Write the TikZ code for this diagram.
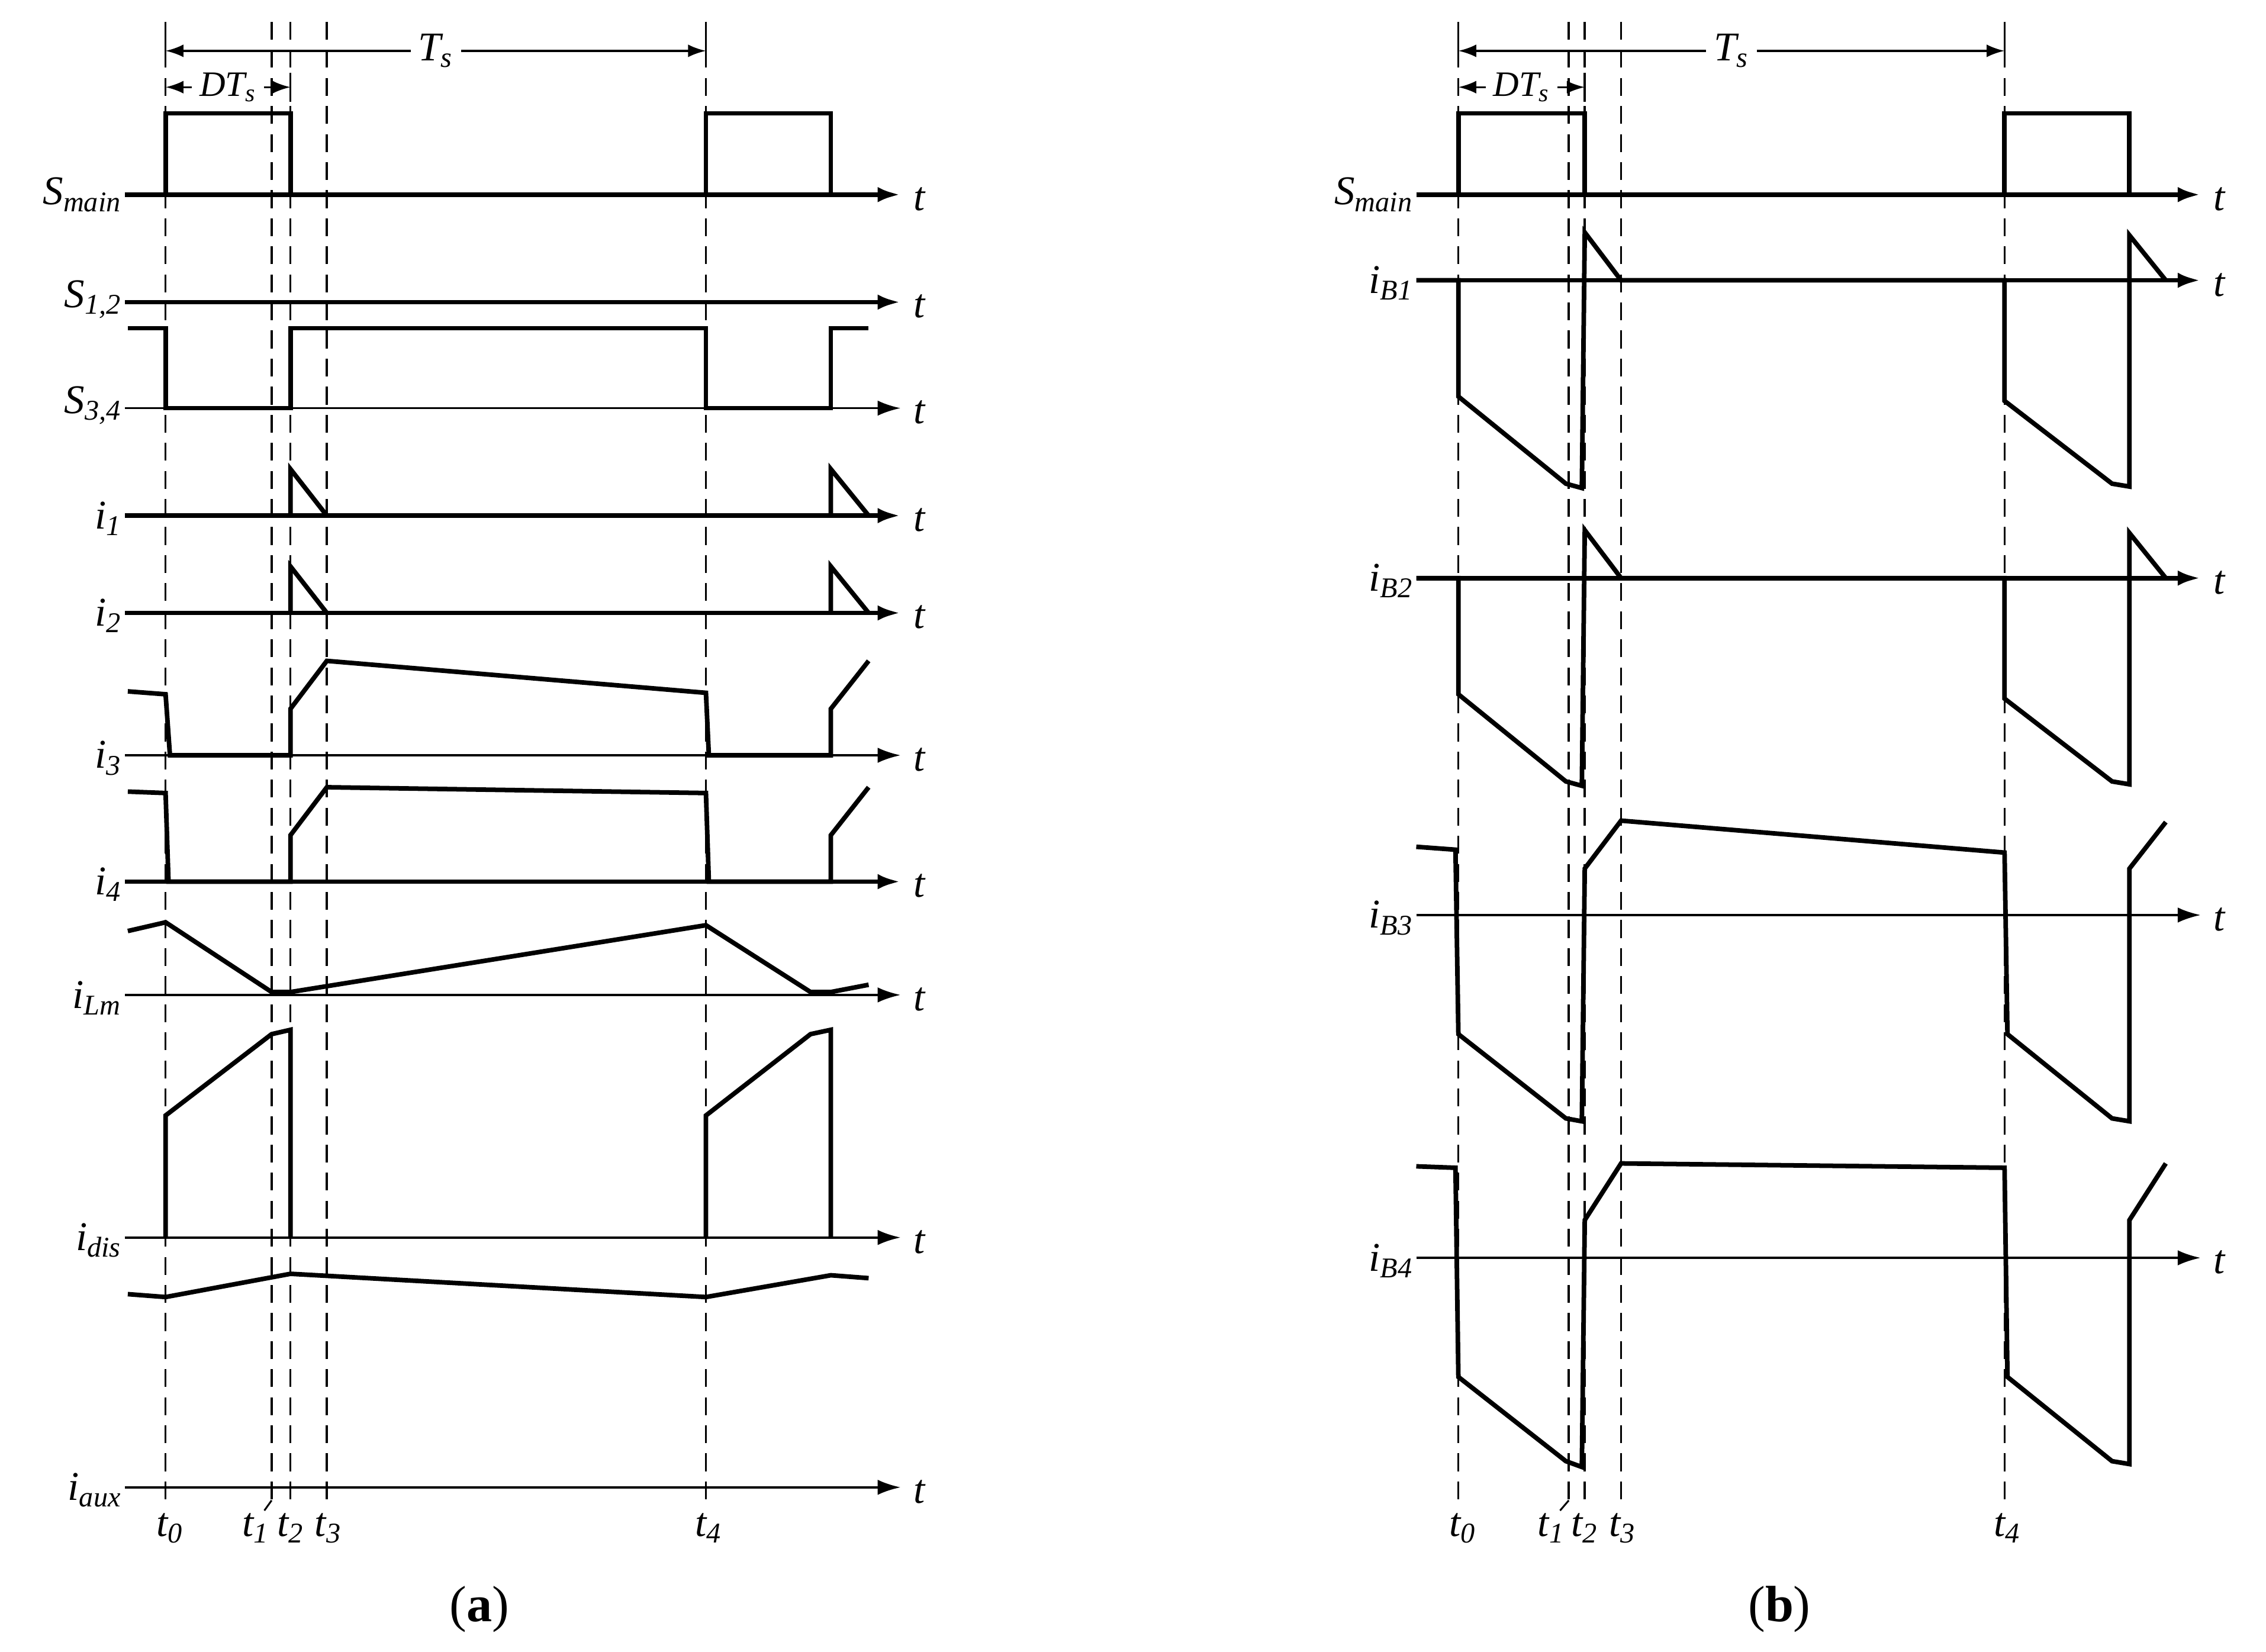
\documentclass[tikz,border=0pt]{standalone}
\usepackage{fontspec}
\setmainfont{Liberation Serif}
\usetikzlibrary{arrows.meta}
\begin{document}
\begin{tikzpicture}[x=0.02cm,y=-0.02cm,
 ax/.style={line width=0.9pt,-{Latex[length=9pt,width=6pt]}},
 axk/.style={line width=1.8pt,-{Latex[length=9pt,width=6pt]}},
 wv/.style={line width=1.8pt,line join=miter},
 dsh/.style={line width=0.8pt,dash pattern=on 7pt off 4pt},
 lab/.style={font=\fontsize{16}{19}\selectfont\itshape,inner sep=1pt},
 dim/.style={line width=0.8pt,{Latex[length=7pt,width=5pt]}-{Latex[length=7pt,width=5pt]}}]
\useasboundingbox (0,0) rectangle (1560,1137);
\fill[white] (0,0) rectangle (1560,1137);
% ===== panel a =====
\foreach \x in {114,187,200,225,486} \draw[dsh] (\x,15) -- (\x,1035);
\foreach \x in {114,486} \draw[line width=0.8pt] (\x,15) -- (\x,45);
\draw[line width=0.8pt] (200,50) -- (200,70);
\draw[dim] (114,35) -- node[lab,fill=white,inner sep=3pt]{T\textsubscript{s}} (486,35);
\draw[dim] (114,60) -- node[lab,fill=white,inner sep=3pt,font=\fontsize{14}{17}\selectfont\itshape]{DT\textsubscript{s}} (200,60);
% axes
\foreach \y/\n/\s in {134/a1/axk,208/a2/axk,281/a3/ax,355/a4/axk,422/a5/axk,520/a6/ax,607/a7/axk,685/a8/ax,852/a9/ax,1024/a10/ax}
  {\draw[\s] (86,\y) -- (620,\y); \node[lab] (t\n) at (633,\y+3) {t};}
\node[lab,anchor=east] (la1) at (86,134) {S\textsubscript{main}};
\node[lab,anchor=east] (la2) at (86,206) {S\textsubscript{1,2}};
\node[lab,anchor=east] (la3) at (86,279) {S\textsubscript{3,4}};
\node[lab,anchor=east] (la4) at (86,357) {i\textsubscript{1}};
\node[lab,anchor=east] (la5) at (86,424) {i\textsubscript{2}};
\node[lab,anchor=east] (la6) at (86,522) {i\textsubscript{3}};
\node[lab,anchor=east] (la7) at (86,609) {i\textsubscript{4}};
\node[lab,anchor=east] (la8) at (86,687) {i\textsubscript{Lm}};
\node[lab,anchor=east] (la9) at (86,854) {i\textsubscript{dis}};
\node[lab,anchor=east] (la10) at (86,1026) {i\textsubscript{aux}};
\draw[wv] (86,134) -- (114,134) -- (114,78) -- (200,78) -- (200,134) -- (486,134) -- (486,78) -- (572,78) -- (572,134);
\draw[wv] (88,226) -- (114,226) -- (114,281) -- (200,281) -- (200,226) -- (486,226) -- (486,281) -- (572,281) -- (572,226) -- (598,226);
\draw[wv] (200,355) -- (200,323) -- (225,355);
\draw[wv] (572,355) -- (572,323) -- (598,355);
\draw[wv] (200,422) -- (200,390) -- (225,422);
\draw[wv] (572,422) -- (572,390) -- (598,422);
\draw[wv] (88,476) -- (114,478) -- (117,520) -- (200,520) -- (200,488) -- (225,455) -- (486,477) -- (488,520) -- (572,520) -- (572,488) -- (598,455);
\draw[wv] (88,545) -- (114,546) -- (116,607) -- (200,607) -- (200,575) -- (225,542) -- (486,546) -- (488,607) -- (572,607) -- (572,575) -- (598,542);
\draw[wv] (88,641) -- (114,635) -- (187,683) -- (200,683) -- (486,637) -- (558,683) -- (572,683) -- (598,678);
\draw[wv] (114,852) -- (114,768) -- (187,712) -- (200,709) -- (200,852);
\draw[wv] (486,852) -- (486,768) -- (558,712) -- (572,709) -- (572,852);
\draw[wv] (88,891) -- (114,893) -- (200,877) -- (486,893) -- (572,878) -- (598,880);
\node[lab] (ta0) at (117,1052) {t\textsubscript{0}};
\node[lab] (ta1) at (176,1052) {t\textsubscript{1}};
\node[lab] (ta2) at (200,1052) {t\textsubscript{2}};
\node[lab] (ta3) at (226,1052) {t\textsubscript{3}};
\node[lab] (ta4) at (488,1052) {t\textsubscript{4}};
\draw[line width=0.7pt] (182,1040) -- (187,1033);
\node[font=\fontsize{20}{24}\selectfont] (capa) at (330,1108) {(\textbf{a})};
% ===== panel b =====
\foreach \x in {1004,1080,1091,1116,1380} \draw[dsh] (\x,15) -- (\x,1035);
\foreach \x in {1004,1380} \draw[line width=0.8pt] (\x,15) -- (\x,45);
\draw[line width=0.8pt] (1091,50) -- (1091,70);
\draw[dim] (1004,35) -- node[lab,fill=white,inner sep=3pt]{T\textsubscript{s}} (1380,35);
\draw[dim] (1004,60) -- node[lab,fill=white,inner sep=3pt,font=\fontsize{14}{17}\selectfont\itshape]{DT\textsubscript{s}} (1091,60);
\foreach \y/\n/\s in {134/b1/axk,193/b2/axk,398/b3/axk,630/b4/ax,866/b5/ax}
  {\draw[\s] (975,\y) -- (1515,\y); \node[lab] (t\n) at (1528,\y+3) {t};}
\node[lab,anchor=east] (lb1) at (975,134) {S\textsubscript{main}};
\node[lab,anchor=east] (lb2) at (975,195) {i\textsubscript{B1}};
\node[lab,anchor=east] (lb3) at (975,400) {i\textsubscript{B2}};
\node[lab,anchor=east] (lb4) at (975,632) {i\textsubscript{B3}};
\node[lab,anchor=east] (lb5) at (975,868) {i\textsubscript{B4}};
\draw[wv] (975,134) -- (1004,134) -- (1004,78) -- (1091,78) -- (1091,134) -- (1380,134) -- (1380,78) -- (1466,78) -- (1466,134);
\foreach \o in {0,205}{
\draw[wv] (975,193+\o) -- (1004,193+\o) -- (1004,273+\o) -- (1078,333+\o) -- (1089,336+\o) -- (1091,160+\o) -- (1116,193+\o) -- (1380,193+\o) -- (1380,276+\o) -- (1454,333+\o) -- (1466,335+\o) -- (1466,162+\o) -- (1491,193+\o);}
\draw[wv] (975,583) -- (1002,585) -- (1004,712) -- (1078,770) -- (1089,772) -- (1091,598) -- (1116,565) -- (1380,587) -- (1382,712) -- (1454,770) -- (1466,772) -- (1466,598) -- (1491,566);
\draw[wv] (975,803) -- (1002,804) -- (1004,948) -- (1078,1006) -- (1089,1010) -- (1091,840) -- (1116,801) -- (1380,804) -- (1382,948) -- (1454,1006) -- (1466,1008) -- (1466,840) -- (1491,801);
\node[lab] (tb0) at (1007,1052) {t\textsubscript{0}};
\node[lab] (tb1) at (1068,1052) {t\textsubscript{1}};
\node[lab] (tb2) at (1091,1052) {t\textsubscript{2}};
\node[lab] (tb3) at (1117,1052) {t\textsubscript{3}};
\node[lab] (tb4) at (1382,1052) {t\textsubscript{4}};
\draw[line width=0.7pt] (1074,1040) -- (1080,1033);
\node[font=\fontsize{20}{24}\selectfont] (capb) at (1225,1108) {(\textbf{b})};
\end{tikzpicture}
\end{document}
